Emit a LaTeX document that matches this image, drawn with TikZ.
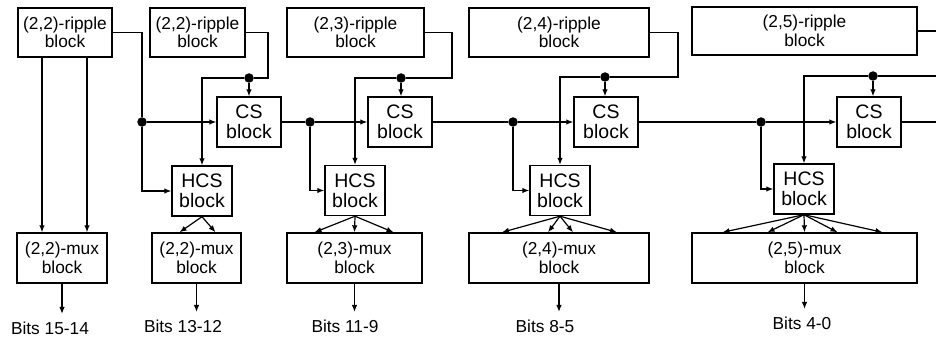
\documentclass[tikz,border=0pt]{standalone}
\usepackage{fontspec}
\setmainfont{Liberation Sans}
\usetikzlibrary{arrows.meta,positioning,calc}

\begin{document}
\begin{tikzpicture}[x=1pt, y=-1pt, line width=1.4pt,
    blk/.style={rectangle, draw, align=center, inner sep=0pt, font=\fontsize{17.3}{18.5}\selectfont},
    csblk/.style={blk, minimum width=64pt, minimum height=50pt, font=\fontsize{19.5}{20}\selectfont},
    hcsblk/.style={blk, minimum width=60pt, minimum height=50pt, font=\fontsize{19.5}{20}\selectfont},
    arr/.style={-{Latex[length=7pt, width=5.5pt]}, line width=1.2pt},
    dot/.style={circle, fill, inner sep=0pt, minimum size=9.5pt},
    bits/.style={font=\fontsize{17.3}{18.5}\selectfont, inner xsep=2pt, inner ysep=7pt}]

    \useasboundingbox (0,0) rectangle (936,342);

    % Ripple blocks
    \node[blk, minimum width=94pt, minimum height=49pt] (r1) at (65,32.5) {(2,2)-ripple\\block};
    \node[blk, minimum width=95pt, minimum height=49pt] (r2) at (197.5,32.5) {(2,2)-ripple\\block};
    \node[blk, minimum width=137pt, minimum height=49pt] (r3) at (355.5,32.5) {(2,3)-ripple\\block};
    \node[blk, minimum width=180pt, minimum height=49pt] (r4) at (559,32.5) {(2,4)-ripple\\block};
    \node[blk, minimum width=225pt, minimum height=48pt] (r5) at (804.5,31) {(2,5)-ripple\\block};

    % CS blocks
    \node[csblk] (c1) at (249,122) {CS\\block};
    \node[csblk] (c2) at (400,122) {CS\\block};
    \node[csblk] (c3) at (606,122) {CS\\block};
    \node[csblk] (c4) at (869,122) {CS\\block};

    % HCS blocks
    \node[hcsblk] (h1) at (202,191) {HCS\\block};
    \node[hcsblk] (h2) at (355,190.5) {HCS\\block};
    \node[hcsblk] (h3) at (560,190.5) {HCS\\block};
    \node[hcsblk] (h4) at (804,189) {HCS\\block};

    % Mux blocks
    \node[blk, minimum width=90pt, minimum height=50pt] (m1) at (62,258) {(2,2)-mux\\block};
    \node[blk, minimum width=89pt, minimum height=50pt] (m2) at (196.5,258) {(2,2)-mux\\block};
    \node[blk, minimum width=135pt, minimum height=50pt] (m3) at (354.5,258) {(2,3)-mux\\block};
    \node[blk, minimum width=180pt, minimum height=50pt] (m4) at (559,258) {(2,4)-mux\\block};
    \node[blk, minimum width=225pt, minimum height=50pt] (m5) at (804.5,258) {(2,5)-mux\\block};

    % Output bits
    \node[bits] (b1) at (50,328) {Bits 15-14};
    \node[bits] (b2) at (183,326) {Bits 13-12};
    \node[bits] (b3) at (345,326) {Bits 11-9};
    \node[bits] (b4) at (545,326) {Bits 8-5};
    \node[bits] (b5) at (802,323) {Bits 4-0};

    % Junctions
    \node[dot] (d1) at (142,122) {};
    \node[dot] (d2) at (310,122) {};
    \node[dot] (d3) at (513,122) {};
    \node[dot] (d4) at (761,122) {};
    \node[dot] (t1) at (249,78) {};
    \node[dot] (t2) at (401,78) {};
    \node[dot] (t3) at (605,77) {};
    \node[dot] (t4) at (873,76) {};
    \coordinate (k1) at (268,78);
    \coordinate (k2) at (452,78);
    \coordinate (k3) at (678,77);
    \coordinate (e1) at (936,31);
    \coordinate (e2) at (936,76);
    \coordinate (e3) at (936,122);

    % Carry chain
    \draw[arr] (r1.east) -| (d1) |- (h1.west);
    \draw[arr] (d1) -- (c1.west);
    \draw[arr] (c1.east) -- (d2) -- (c2.west);
    \draw[arr] (c2.east) -- (d3) -- (c3.west);
    \draw[arr] (c3.east) -- (d4) -- (c4.west);
    \draw (c4.east) -- (e3);
    \draw[arr] (d2) |- (h2.west);
    \draw[arr] (d3) |- (h3.west);
    \draw[arr] (d4) |- (h4.west);

    % Ripple outputs
    \draw[arr] (r2.east) -| (k1) -- (t1) -| (h1.north);
    \draw[arr] (r3.east) -| (k2) -- (t2) -| (h2.north);
    \draw[arr] (r4.east) -| (k3) -- (t3) -| (h3.north);
    \draw (r5.east) -- (e1);
    \draw[arr] (e2) -- (t4) -| (h4.north);
    \draw[arr] (t1) -- (t1 |- c1.north);
    \draw[arr] (t2) -- (t2 |- c2.north);
    \draw[arr] (t3) -- (t3 |- c3.north);
    \draw[arr] (t4) -- (t4 |- c4.north);
    \draw[arr] ([xshift=-23pt]r1.south) -- ([xshift=-23pt]r1.south |- m1.north);
    \draw[arr] ([xshift=22pt]r1.south) -- ([xshift=22pt]r1.south |- m1.north);

    % HCS to mux
    \foreach \dx in {-17,19} \draw[arr] (h1.south) -- ([xshift=\dx pt]m2.north);
    \foreach \dx in {-40,0,39} \draw[arr] (h2.south) -- ([xshift=\dx pt]m3.north);
    \foreach \dx in {-57,-11,14,58} \draw[arr] (h3.south) -- ([xshift=\dx pt]m4.north);
    \foreach \dx in {-82,-37,0,33,78} \draw[arr] (h4.south) -- ([xshift=\dx pt]m5.north);

    % Mux to bits
    \foreach \m/\b in {m1/b1, m2/b2, m3/b3, m4/b4, m5/b5}
        \draw[arr] (\m.south) -- (\m.south |- \b.north);
\end{tikzpicture}
\end{document}
